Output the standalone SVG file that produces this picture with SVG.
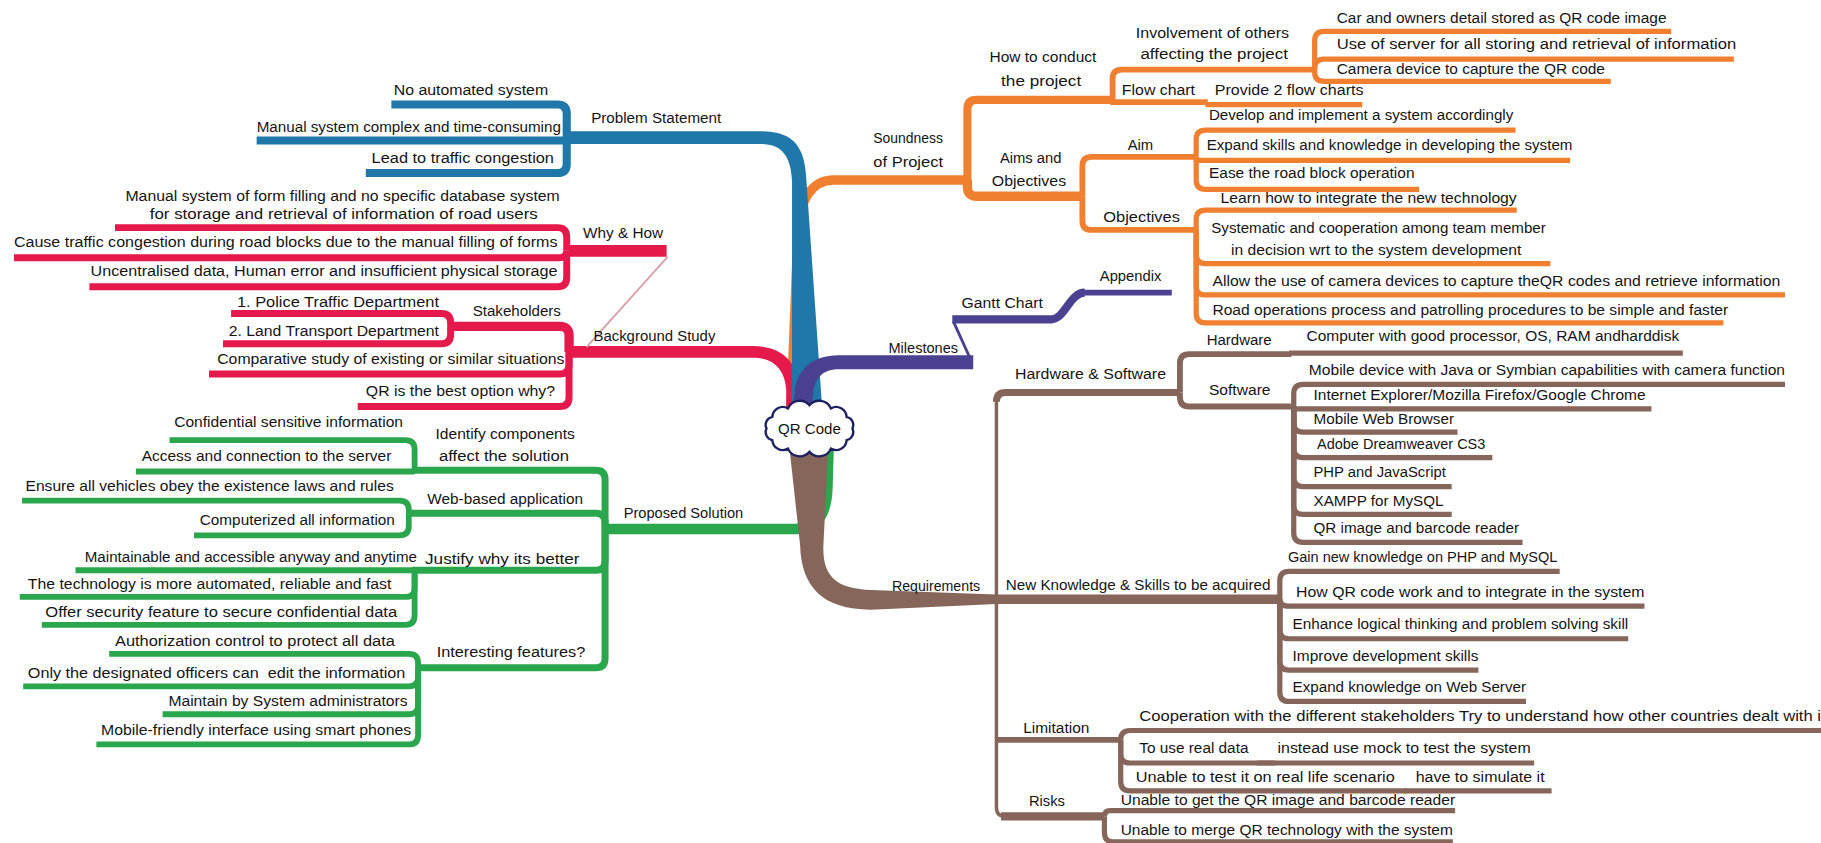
<svg xmlns="http://www.w3.org/2000/svg" width="1821" height="843" viewBox="0 0 1821 843">
<style>
.t{font-family:"Liberation Sans",Arial,sans-serif;font-size:13px;fill:#141414}
.c{fill:none;stroke-linejoin:round;stroke-linecap:butt}
.b{stroke:#1f78a9}.r{stroke:#e5194b}.g{stroke:#2aa64d}.o{stroke:#f0802f}.p{stroke:#4a4190}.n{stroke:#86655a}
.w3{stroke-width:3}.w4{stroke-width:4.5}.w5{stroke-width:5}.w6{stroke-width:6}.w7{stroke-width:7}.w8{stroke-width:8}
</style>
<rect width="1821" height="843" fill="#fff"/>
<g transform="scale(1.16135)">
<g id="connectors">
  <path class="c o w8" d="M835,155 H718 C700,155 689,170 687,200 L681,352"/>
  <path fill="#e5194b" d="M488,298 H648 C672,298 687,310 688,335 L689,352 L677,352 L677,336 C676,318 666,308 648,308 H488 Z"/>
  <path fill="#1f78a9" d="M486,113 H655 C680,113 692,123 694,150 L708,352 L682,352 L682,156 C681,133 672,124 655,124 H486 Z"/>
  <path fill="#4a4190" d="M838,306 H722 C700,306 686,318 684,338 L683,352 L699,352 L700,340 C701,326 708,318 722,318 H838 Z"/>
  <path fill="#2aa64d" d="M519,451 H684 C700,451 709,442 710,420 L711,386 L718,386 L717,420 C716,450 703,460 684,460 H519 Z"/>
  <path fill="#86655a" d="M680,388 L713,388 L709,470 C708,498 722,507 750,508 L858,512 L858,520 L750,525 C708,525 690,505 689,470 Z"/>

  <path class="c b w7" d="M337,90 H480 Q488,90 488,98 V118"/>
  <path class="c b w7" d="M221,121 H490"/>
  <path class="c b w7" d="M315,149 H480 Q488,149 488,141 V118"/>

  <path class="c r w6" d="M99,196 H480 Q488,196 488,204 V216"/>
  <path class="c r w6" d="M12,222 H482 Q488,222 488,216"/>
  <path class="c r w6" d="M77,247 H480 Q488,247 488,239 V216"/>
  <path class="c r" stroke-width="10" stroke-linecap="round" d="M490,216 H574"/>
  <path fill="none" stroke="#d8a0ab" stroke-width="1.6" d="M575,221 L505,299"/>
  <path class="c r w6" d="M199,270 H380 Q388,270 388,278 V281"/>
  <path class="c r w6" d="M192,296 H380 Q388,296 388,288 V281"/>
  <path class="c r w8" d="M386,281 H482 Q490,281 490,289 V303"/>
  <path class="c r w6" d="M180,322 H482 Q490,322 490,314 V303"/>
  <path class="c r w6" d="M308,350 H482 Q490,350 490,342 V303"/>

  <path class="c g w5" d="M146,379 H349 Q357,379 357,387 V405"/>
  <path class="c g w5" d="M117,406 H357"/>
  <path class="c g w6" d="M355,405 H513 Q521,405 521,413 V455"/>
  <path class="c g w5" d="M19,431 H344 Q352,431 352,439 V442"/>
  <path class="c g w5" d="M167,461 H344 Q352,461 352,453 V442"/>
  <path class="c g w6" d="M350,442 H513 Q521,442 521,450 V455"/>
  <path class="c g w5" d="M65,491 H357"/>
  <path class="c g w5" d="M17,514 H349 Q357,514 357,506 V491"/>
  <path class="c g w5" d="M36,538 H349 Q357,538 357,530 V491"/>
  <path class="c g w6" d="M355,491 H513 Q521,491 521,483 V455"/>
  <path class="c g w5" d="M94,563 H352 Q360,563 360,571 V575"/>
  <path class="c g w5" d="M20,591 H352 Q360,591 360,583 V575"/>
  <path class="c g w5" d="M140,615 H352 Q360,615 360,607 V575"/>
  <path class="c g w5" d="M83,641 H352 Q360,641 360,633 V575"/>
  <path class="c g w6" d="M358,575 H513 Q521,575 521,567 V455"/>

  <path class="c o w7" d="M958,86 H841 Q833,86 833,94 V155"/>
  <path class="c o w8" d="M932,169 H841 Q833,169 833,161 V155"/>
  <path class="c o w5" d="M1132,60 H966 Q958,60 958,68 V86"/>
  <path class="c o w5" d="M956,88 H1040"/>
  <path class="c o w4" d="M1038,90 H1173"/>
  <path class="c o w4" d="M1439,27 H1140 Q1132,27 1132,35 V60"/>
  <path class="c o w4" d="M1493,51 H1140 Q1132,51 1132,59 V60"/>
  <path class="c o w4" d="M1387,70 H1140 Q1132,70 1132,62 V60"/>
  <path class="c o w5" d="M1030,135 H940 Q932,135 932,143 V169"/>
  <path class="c o w5" d="M1030,198 H940 Q932,198 932,190 V169"/>
  <path class="c o w4" d="M1305,112 H1038 Q1030,112 1030,120 V135"/>
  <path class="c o w4" d="M1352,138 H1030 V135"/>
  <path class="c o w4" d="M1222,163 H1038 Q1030,163 1030,155 V135"/>
  <path class="c o w4" d="M1306,181 H1038 Q1030,181 1030,189 V198"/>
  <path class="c o w4" d="M1335,227 H1038 Q1030,227 1030,219 V198"/>
  <path class="c o w4" d="M1537,254 H1038 Q1030,254 1030,246 V198"/>
  <path class="c o w4" d="M1484,278 H1038 Q1030,278 1030,270 V198"/>

  <path class="c p" stroke-width="2.5" d="M836,310 L821,277"/>
  <path class="c p w7" stroke-linecap="round" d="M820,275 H905 C917,275 921,252 934,252"/>
  <path class="c p w5" d="M932,252 H1009"/>

  <path class="c n w6" d="M1016,338 H866 Q858,338 858,346"/>
  <path class="c n w3" d="M858,344 V695 Q858,703 866,703"/>
  <path class="c n w7" d="M862,703 H951"/>
  <path class="c n w5" d="M858,637 H965"/>
  <path class="c n w8" d="M856,516 H1102"/>
  <path class="c n w5" d="M1112,305 H1024 Q1016,305 1016,313 V338"/>
  <path class="c n w5" d="M1112,350 H1024 Q1016,350 1016,342 V338"/>
  <path class="c n w4" d="M1110,304 H1449"/>
  <path class="c n w4" d="M1537,331 H1122 Q1114,331 1114,339 V350"/>
  <path class="c n w4" d="M1422,352 H1114 V350"/>
  <path class="c n w4" d="M1255,372 H1122 Q1114,372 1114,364 V350"/>
  <path class="c n w4" d="M1285,394 H1122 Q1114,394 1114,386 V350"/>
  <path class="c n w4" d="M1250,419 H1122 Q1114,419 1114,411 V350"/>
  <path class="c n w4" d="M1250,443 H1122 Q1114,443 1114,435 V350"/>
  <path class="c n w4" d="M1311,467 H1122 Q1114,467 1114,459 V350"/>
  <path class="c n w4" d="M1343,492 H1110 Q1102,492 1102,500 V516"/>
  <path class="c n w4" d="M1416,522 H1110 Q1102,522 1102,516"/>
  <path class="c n w4" d="M1402,550 H1110 Q1102,550 1102,542 V516"/>
  <path class="c n w4" d="M1273,577 H1110 Q1102,577 1102,569 V516"/>
  <path class="c n w4" d="M1314,604 H1110 Q1102,604 1102,596 V516"/>
  <path class="c n w4" d="M1568,629 H973 Q965,629 965,637"/>
  <path class="c n w4" d="M1098,657 H973 Q965,657 965,649 V637"/>
  <path class="c n w4" d="M1082,657 H1321"/>
  <path class="c n w4" d="M1211,681 H973 Q965,681 965,673 V637"/>
  <path class="c n w4" d="M1209,681 H1336"/>
  <path class="c n w4" d="M1253,698 H956 Q951,698 951,703"/>
  <path class="c n w4" d="M1251,725 H959 Q951,725 951,717 V703"/>
</g>

<g id="n-center">
  <path fill="#fff" stroke="#1c2160" stroke-width="2" d="M734,369 A7,7 0 0 1 729,379 A9,9 0 0 1 715.5,386.3 A11,11 0 0 1 697,389 A11,11 0 0 1 678.5,386.3 A9,9 0 0 1 665,379 A7,7 0 0 1 660,369 A7,7 0 0 1 665,359 A9,9 0 0 1 678.5,351.7 A11,11 0 0 1 697,349 A11,11 0 0 1 715.5,351.7 A9,9 0 0 1 729,359 A7,7 0 0 1 734,369 Z"/>
  <text class="t" x="697" y="373.5" text-anchor="middle">QR Code</text>
</g>

<g id="n-problem"><text class="t" x="509" y="106" textLength="112" lengthAdjust="spacingAndGlyphs">Problem Statement</text></g>
<g id="n-p1"><text class="t" x="339" y="82" textLength="133" lengthAdjust="spacingAndGlyphs">No automated system</text></g>
<g id="n-p2"><text class="t" x="221" y="114" textLength="262" lengthAdjust="spacingAndGlyphs">Manual system complex and time-consuming</text></g>
<g id="n-p3"><text class="t" x="320" y="140" textLength="157" lengthAdjust="spacingAndGlyphs">Lead to traffic congestion</text></g>

<g id="n-whyhow"><text class="t" x="502" y="205" textLength="69" lengthAdjust="spacingAndGlyphs">Why &amp; How</text></g>
<g id="n-w1"><text class="t" x="108" y="173" textLength="374" lengthAdjust="spacingAndGlyphs">Manual system of form filling and no specific database system</text><text class="t" x="129" y="189" textLength="334" lengthAdjust="spacingAndGlyphs">for storage and retrieval of information of road users</text></g>
<g id="n-w2"><text class="t" x="12" y="213" textLength="468" lengthAdjust="spacingAndGlyphs">Cause traffic congestion during road blocks due to the manual filling of forms</text></g>
<g id="n-w3"><text class="t" x="78" y="238" textLength="402" lengthAdjust="spacingAndGlyphs">Uncentralised data, Human error and insufficient physical storage</text></g>
<g id="n-background"><text class="t" x="511" y="294" textLength="105" lengthAdjust="spacingAndGlyphs">Background Study</text></g>
<g id="n-stake"><text class="t" x="407" y="272" textLength="76" lengthAdjust="spacingAndGlyphs">Stakeholders</text></g>
<g id="n-s1"><text class="t" x="204" y="264" textLength="174" lengthAdjust="spacingAndGlyphs">1. Police Traffic Department</text></g>
<g id="n-s2"><text class="t" x="197" y="289" textLength="181" lengthAdjust="spacingAndGlyphs">2. Land Transport Department</text></g>
<g id="n-b2"><text class="t" x="187" y="313" textLength="299" lengthAdjust="spacingAndGlyphs">Comparative study of existing or similar situations</text></g>
<g id="n-b3"><text class="t" x="315" y="341" textLength="163" lengthAdjust="spacingAndGlyphs">QR is the best option why?</text></g>

<g id="n-proposed"><text class="t" x="537" y="446" textLength="103" lengthAdjust="spacingAndGlyphs">Proposed Solution</text></g>
<g id="n-identify"><text class="t" x="375" y="378" textLength="120" lengthAdjust="spacingAndGlyphs">Identify components</text><text class="t" x="378" y="397" textLength="112" lengthAdjust="spacingAndGlyphs">affect the solution</text></g>
<g id="n-i1"><text class="t" x="150" y="368" textLength="197" lengthAdjust="spacingAndGlyphs">Confidential sensitive information</text></g>
<g id="n-i2"><text class="t" x="122" y="397" textLength="215" lengthAdjust="spacingAndGlyphs">Access and connection to the server</text></g>
<g id="n-web"><text class="t" x="368" y="434" textLength="134" lengthAdjust="spacingAndGlyphs">Web-based application</text></g>
<g id="n-wb1"><text class="t" x="22" y="423" textLength="317" lengthAdjust="spacingAndGlyphs">Ensure all vehicles obey the existence laws and rules</text></g>
<g id="n-wb2"><text class="t" x="172" y="452" textLength="168" lengthAdjust="spacingAndGlyphs">Computerized all information</text></g>
<g id="n-justify"><text class="t" x="366" y="486" textLength="133" lengthAdjust="spacingAndGlyphs">Justify why its better</text></g>
<g id="n-j1"><text class="t" x="73" y="484" textLength="286" lengthAdjust="spacingAndGlyphs">Maintainable and accessible anyway and anytime</text></g>
<g id="n-j2"><text class="t" x="24" y="507" textLength="313" lengthAdjust="spacingAndGlyphs">The technology is more automated, reliable and fast</text></g>
<g id="n-j3"><text class="t" x="39" y="531" textLength="303" lengthAdjust="spacingAndGlyphs">Offer security feature to secure confidential data</text></g>
<g id="n-interesting"><text class="t" x="376" y="566" textLength="128" lengthAdjust="spacingAndGlyphs">Interesting features?</text></g>
<g id="n-f1"><text class="t" x="99" y="556" textLength="241" lengthAdjust="spacingAndGlyphs">Authorization control to protect all data</text></g>
<g id="n-f2"><text class="t" x="24" y="584" textLength="325" lengthAdjust="spacingAndGlyphs" xml:space="preserve">Only the designated officers can  edit the information</text></g>
<g id="n-f3"><text class="t" x="145" y="608" textLength="206" lengthAdjust="spacingAndGlyphs">Maintain by System administrators</text></g>
<g id="n-f4"><text class="t" x="87" y="633" textLength="267" lengthAdjust="spacingAndGlyphs">Mobile-friendly interface using smart phones</text></g>

<g id="n-soundness"><text class="t" x="752" y="123" textLength="60" lengthAdjust="spacingAndGlyphs">Soundness</text><text class="t" x="752" y="144" textLength="60" lengthAdjust="spacingAndGlyphs">of Project</text></g>
<g id="n-howto"><text class="t" x="852" y="53" textLength="92" lengthAdjust="spacingAndGlyphs">How to conduct</text><text class="t" x="862" y="74" textLength="69" lengthAdjust="spacingAndGlyphs">the project</text></g>
<g id="n-involve"><text class="t" x="978" y="33" textLength="132" lengthAdjust="spacingAndGlyphs">Involvement of others</text><text class="t" x="982" y="51" textLength="127" lengthAdjust="spacingAndGlyphs">affecting the project</text></g>
<g id="n-v1"><text class="t" x="1151" y="20" textLength="284" lengthAdjust="spacingAndGlyphs">Car and owners detail stored as QR code image</text></g>
<g id="n-v2"><text class="t" x="1151" y="42" textLength="344" lengthAdjust="spacingAndGlyphs">Use of server for all storing and retrieval of information</text></g>
<g id="n-v3"><text class="t" x="1151" y="64" textLength="231" lengthAdjust="spacingAndGlyphs">Camera device to capture the QR code</text></g>
<g id="n-flow"><text class="t" x="966" y="82" textLength="63" lengthAdjust="spacingAndGlyphs">Flow chart</text></g>
<g id="n-fl1"><text class="t" x="1046" y="82" textLength="128" lengthAdjust="spacingAndGlyphs">Provide 2 flow charts</text></g>
<g id="n-aims"><text class="t" x="861" y="140" textLength="53" lengthAdjust="spacingAndGlyphs">Aims and</text><text class="t" x="854" y="160" textLength="64" lengthAdjust="spacingAndGlyphs">Objectives</text></g>
<g id="n-aim"><text class="t" x="971" y="129" textLength="22" lengthAdjust="spacingAndGlyphs">Aim</text></g>
<g id="n-a1"><text class="t" x="1041" y="103" textLength="262" lengthAdjust="spacingAndGlyphs">Develop and implement a system accordingly</text></g>
<g id="n-a2"><text class="t" x="1039" y="129" textLength="315" lengthAdjust="spacingAndGlyphs">Expand skills and knowledge in developing the system</text></g>
<g id="n-a3"><text class="t" x="1041" y="153" textLength="177" lengthAdjust="spacingAndGlyphs">Ease the road block operation</text></g>
<g id="n-objectives"><text class="t" x="950" y="191" textLength="66" lengthAdjust="spacingAndGlyphs">Objectives</text></g>
<g id="n-o1"><text class="t" x="1051" y="175" textLength="255" lengthAdjust="spacingAndGlyphs">Learn how to integrate the new technology</text></g>
<g id="n-o2"><text class="t" x="1043" y="201" textLength="288" lengthAdjust="spacingAndGlyphs">Systematic and cooperation among team member</text><text class="t" x="1060" y="220" textLength="250" lengthAdjust="spacingAndGlyphs">in decision wrt to the system development</text></g>
<g id="n-o3"><text class="t" x="1044" y="246" textLength="489" lengthAdjust="spacingAndGlyphs">Allow the use of camera devices to capture theQR codes and retrieve information</text></g>
<g id="n-o4"><text class="t" x="1044" y="271" textLength="444" lengthAdjust="spacingAndGlyphs">Road operations process and patrolling procedures to be simple and faster</text></g>

<g id="n-milestones"><text class="t" x="765" y="304" textLength="60" lengthAdjust="spacingAndGlyphs">Milestones</text></g>
<g id="n-gantt"><text class="t" x="828" y="265" textLength="70" lengthAdjust="spacingAndGlyphs">Gantt Chart</text></g>
<g id="n-appendix"><text class="t" x="947" y="242" textLength="53" lengthAdjust="spacingAndGlyphs">Appendix</text></g>

<g id="n-requirements"><text class="t" x="768" y="509" textLength="76" lengthAdjust="spacingAndGlyphs">Requirements</text></g>
<g id="n-hs"><text class="t" x="874" y="326" textLength="130" lengthAdjust="spacingAndGlyphs">Hardware &amp; Software</text></g>
<g id="n-hardware"><text class="t" x="1039" y="297" textLength="56" lengthAdjust="spacingAndGlyphs">Hardware</text></g>
<g id="n-h1"><text class="t" x="1125" y="294" textLength="321" lengthAdjust="spacingAndGlyphs">Computer with good processor, OS, RAM andharddisk</text></g>
<g id="n-software"><text class="t" x="1041" y="340" textLength="53" lengthAdjust="spacingAndGlyphs">Software</text></g>
<g id="n-sw1"><text class="t" x="1127" y="323" textLength="410" lengthAdjust="spacingAndGlyphs">Mobile device with Java or Symbian capabilities with camera function</text></g>
<g id="n-sw2"><text class="t" x="1131" y="344" textLength="286" lengthAdjust="spacingAndGlyphs">Internet Explorer/Mozilla Firefox/Google Chrome</text></g>
<g id="n-sw3"><text class="t" x="1131" y="365" textLength="121" lengthAdjust="spacingAndGlyphs">Mobile Web Browser</text></g>
<g id="n-sw4"><text class="t" x="1134" y="387" textLength="145" lengthAdjust="spacingAndGlyphs">Adobe Dreamweaver CS3</text></g>
<g id="n-sw5"><text class="t" x="1131" y="411" textLength="114" lengthAdjust="spacingAndGlyphs">PHP and JavaScript</text></g>
<g id="n-sw6"><text class="t" x="1131" y="436" textLength="112" lengthAdjust="spacingAndGlyphs">XAMPP for MySQL</text></g>
<g id="n-sw7"><text class="t" x="1131" y="459" textLength="177" lengthAdjust="spacingAndGlyphs">QR image and barcode reader</text></g>
<g id="n-newk"><text class="t" x="866" y="508" textLength="228" lengthAdjust="spacingAndGlyphs">New Knowledge &amp; Skills to be acquired</text></g>
<g id="n-k1"><text class="t" x="1109" y="484" textLength="232" lengthAdjust="spacingAndGlyphs">Gain new knowledge on PHP and MySQL</text></g>
<g id="n-k2"><text class="t" x="1116" y="514" textLength="300" lengthAdjust="spacingAndGlyphs">How QR code work and to integrate in the system</text></g>
<g id="n-k3"><text class="t" x="1113" y="542" textLength="289" lengthAdjust="spacingAndGlyphs">Enhance logical thinking and problem solving skill</text></g>
<g id="n-k4"><text class="t" x="1113" y="569" textLength="160" lengthAdjust="spacingAndGlyphs">Improve development skills</text></g>
<g id="n-k5"><text class="t" x="1113" y="596" textLength="201" lengthAdjust="spacingAndGlyphs">Expand knowledge on Web Server</text></g>
<g id="n-limitation"><text class="t" x="881" y="631" textLength="57" lengthAdjust="spacingAndGlyphs">Limitation</text></g>
<g id="n-l1"><text class="t" x="981" y="621" textLength="591" lengthAdjust="spacingAndGlyphs">Cooperation with the different stakeholders Try to understand how other countries dealt with it</text></g>
<g id="n-l2"><text class="t" x="981" y="648" textLength="94" lengthAdjust="spacingAndGlyphs">To use real data</text></g>
<g id="n-l2b"><text class="t" x="1100" y="648" textLength="218" lengthAdjust="spacingAndGlyphs">instead use mock to test the system</text></g>
<g id="n-l3"><text class="t" x="978" y="673" textLength="223" lengthAdjust="spacingAndGlyphs">Unable to test it on real life scenario</text></g>
<g id="n-l3b"><text class="t" x="1219" y="673" textLength="111" lengthAdjust="spacingAndGlyphs">have to simulate it</text></g>
<g id="n-risks"><text class="t" x="886" y="694" textLength="31" lengthAdjust="spacingAndGlyphs">Risks</text></g>
<g id="n-r1"><text class="t" x="965" y="693" textLength="288" lengthAdjust="spacingAndGlyphs">Unable to get the QR image and barcode reader</text></g>
<g id="n-r2"><text class="t" x="965" y="719" textLength="286" lengthAdjust="spacingAndGlyphs">Unable to merge QR technology with the system</text></g>
</g>
</svg>
